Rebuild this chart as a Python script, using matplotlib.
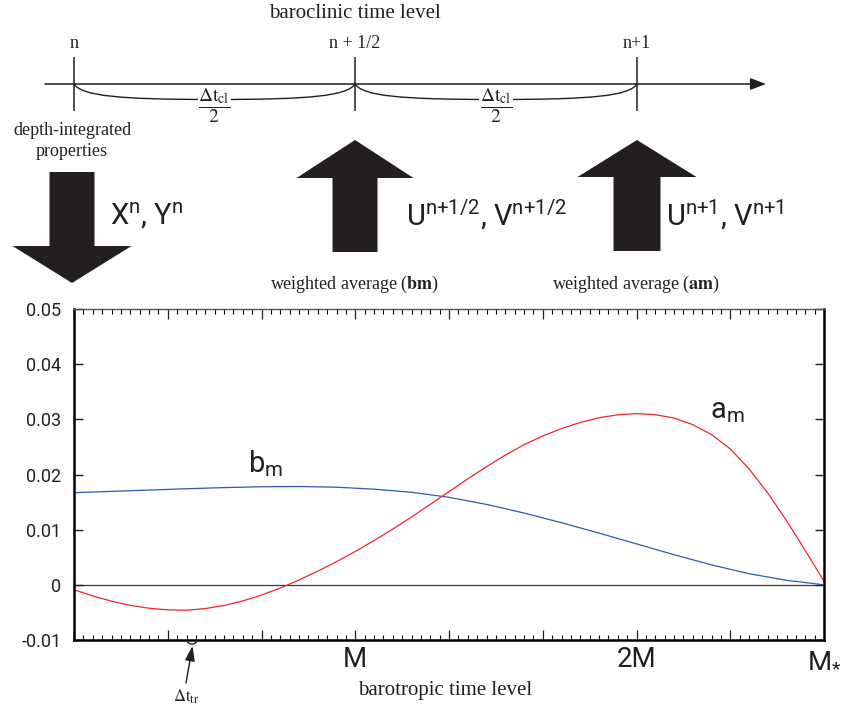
import matplotlib as mpl
import matplotlib.pyplot as plt
from matplotlib.patches import Arc, PathPatch, Polygon
from matplotlib.path import Path
from matplotlib.ticker import MultipleLocator

SERIF = "Liberation Serif"
SANS = "Roboto"
INK = "#231f20"

# Filter weights --------------------------------------------------------------------- #
a_steps = list(range(0, 81, 2))
a_m = [-0.0009, -0.0020, -0.00296, -0.00372, -0.00424, -0.00454, -0.00460, -0.00430,
       -0.00374, -0.00292, -0.00186, -0.00058, 0.00088, 0.00248, 0.00420, 0.00604,
       0.00802, 0.01010, 0.01230, 0.01458, 0.01690, 0.01920, 0.02142, 0.02350,
       0.02540, 0.02698, 0.02832, 0.02944, 0.03028, 0.03082, 0.03104, 0.03084,
       0.03024, 0.02904, 0.02724, 0.02464, 0.02104, 0.01664, 0.01164, 0.00624,
       0.00064]

b_steps = list(range(0, 81, 4))
b_m = [0.0167, 0.01694, 0.01718, 0.01742, 0.01762, 0.01778, 0.01782, 0.0177,
       0.01734, 0.01678, 0.01586, 0.01458, 0.01302, 0.01126, 0.00938, 0.00742,
       0.00546, 0.00362, 0.00202, 0.00082, 0.0]

M = 30
M_STAR = 80
y_ticks = [-0.01, 0.0, 0.01, 0.02, 0.03, 0.04, 0.05]
y_labels = ["-0.01", "0", "0.01", "0.02", "0.03", "0.04", "0.05"]
x_ticks = [M, 2 * M, M_STAR]
x_labels = ["M", "2M", r"M$_{*}$"]

time_levels = ["n", "n + 1/2", "n+1"]
time_px = [74, 355, 637]

plt.rcParams["mathtext.fontset"] = "custom"
plt.rcParams["mathtext.rm"] = SANS
plt.rcParams["mathtext.it"] = SANS + ":italic"
plt.rcParams["mathtext.bf"] = SANS + ":bold"
plt.rcParams["text.color"] = INK

W, H = 844, 713
fig = plt.figure(figsize=(W / 100, H / 100), dpi=100)

# Weights plot ----------------------------------------------------------------------- #
ax = fig.add_axes([74 / W, (H - 640) / H, 750 / W, 331 / H])
ax.plot(b_steps, b_m, color="#2d5ca8", lw=0.9)
ax.plot(a_steps, a_m, color="#f0262b", lw=0.9)
ax.axhline(0, color="#3a3a3a", lw=0.9, zorder=1)
ax.set_xlim(0, M_STAR)
ax.set_ylim(-0.01, 0.05)

major = list(range(0, M_STAR + 1, 10))
ax.set_xticks(major, [x_labels[x_ticks.index(t)] if t in x_ticks else "" for t in major])
ax.xaxis.set_minor_locator(MultipleLocator(1))
ax.set_yticks(y_ticks, y_labels)
ax.tick_params(axis="x", which="major", direction="in", length=7, width=0.9,
               top=True, bottom=True, pad=4, labelsize=20, colors=INK)
ax.tick_params(axis="x", which="minor", direction="in", length=3.5, width=0.8,
               top=True, bottom=True)
ax.tick_params(axis="y", direction="in", length=6.5, width=1.0, left=True, right=True,
               pad=9, labelsize=13, colors=INK)
for lab in ax.get_xticklabels() + ax.get_yticklabels():
    lab.set_fontfamily(SANS)
for side in ["left", "bottom", "right"]:
    ax.spines[side].set_linewidth(1.8)
ax.spines["top"].set_linewidth(1.0)
ax.spines["top"].set_color("#555555")

ax.text(18.6, 0.0204, r"b$_{\mathrm{m}}$", fontfamily=SANS, fontsize=21, va="baseline")
ax.text(67.8, 0.0302, r"a$_{\mathrm{m}}$", fontfamily=SANS, fontsize=21, va="baseline")

# Diagram overlay (pixel coordinates) ------------------------------------------------ #
ov = fig.add_axes([0, 0, 1, 1])
ov.set_xlim(0, W)
ov.set_ylim(H, 0)
ov.axis("off")

ov.text(355, 13, "baroclinic time level", fontfamily=SERIF, fontsize=15,
        ha="center", va="center")
ov.annotate("", xy=(766, 84), xytext=(45, 84),
            arrowprops=dict(arrowstyle="-|>,head_length=0.95,head_width=0.36",
                            color=INK, lw=1.1, shrinkA=0, shrinkB=0))
ov.vlines(time_px, 57, 111, color=INK, lw=1.1)
for x, s in zip(time_px, time_levels):
    ov.text(x, 48, s, fontfamily=SERIF, fontsize=13, ha="center", va="baseline")

# curved braces between time levels
for x0, x1 in zip(time_px[:-1], time_px[1:]):
    xm = 0.5 * (x0 + x1)
    verts = [(x0, 84), (x0 + 8, 96), (x0 + 45, 99.5), (xm, 99.5),
             (x1 - 45, 99.5), (x1 - 8, 96), (x1, 84)]
    codes = [Path.MOVETO] + [Path.CURVE4] * 6
    ov.add_patch(PathPatch(Path(verts, codes), fc="none", ec=INK, lw=1.0))
    ov.text(xm, 106, r"$\dfrac{\Delta\mathrm{t}_{\mathrm{cl}}}{2}$", fontsize=14,
            math_fontfamily="stix", ha="center", va="center",
            bbox=dict(fc="white", ec="none", pad=0.3))

ov.text(72, 135, "depth-integrated", fontfamily=SERIF, fontsize=13, ha="center",
        va="baseline")
ov.text(72, 156, "properties", fontfamily=SERIF, fontsize=13, ha="center",
        va="baseline")


def block_arrow(xc, tip, head_base, shaft_end, head_w, shaft_w):
    pts = [(xc, tip), (xc + head_w / 2, head_base), (xc + shaft_w / 2, head_base),
           (xc + shaft_w / 2, shaft_end), (xc - shaft_w / 2, shaft_end),
           (xc - shaft_w / 2, head_base), (xc - head_w / 2, head_base)]
    ov.add_patch(Polygon(pts, closed=True, fc=INK, ec="none"))


block_arrow(72, 283, 246, 172, 119, 45)
block_arrow(355, 140, 178, 252, 117, 45)
block_arrow(637, 140, 177, 251, 119, 47)

ov.text(110, 225, r"X$^{\mathrm{n}}$, Y$^{\mathrm{n}}$", fontfamily=SANS, fontsize=21,
        va="baseline")
ov.text(406, 225, r"U$^{\mathrm{n{+}1/2}}$, V$^{\mathrm{n{+}1/2}}$", fontfamily=SANS,
        fontsize=21, va="baseline")
ov.text(666, 225, r"U$^{\mathrm{n{+}1}}$, V$^{\mathrm{n{+}1}}$", fontfamily=SANS,
        fontsize=21, va="baseline")

ov.text(355, 289, r"weighted average ($\mathbf{bm}$)", fontfamily=SERIF, fontsize=13,
        math_fontfamily="stix", ha="center", va="baseline")
ov.text(636, 289, r"weighted average ($\mathbf{am}$)", fontfamily=SERIF, fontsize=13,
        math_fontfamily="stix", ha="center", va="baseline")

# one barotropic step marker
ov.add_patch(Arc((192, 640), 10, 8, theta1=0, theta2=180, color=INK, lw=1.0))
ov.annotate("", xy=(192.5, 646), xytext=(186, 683),
            arrowprops=dict(arrowstyle="-|>,head_length=0.9,head_width=0.3",
                            color=INK, lw=1.0, shrinkA=0, shrinkB=0))
ov.text(186, 697, r"$\Delta\mathrm{t}_{\mathrm{tr}}$", fontsize=12,
        math_fontfamily="stix", ha="center", va="center")
ov.text(445, 690, "barotropic time level", fontfamily=SERIF, fontsize=15,
        ha="center", va="center")

fig.savefig("out.png", dpi=100)
